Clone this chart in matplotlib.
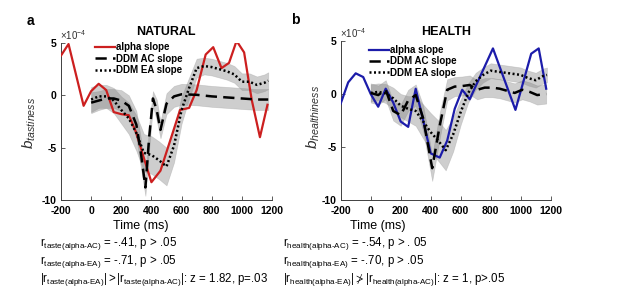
import matplotlib
matplotlib.use("Agg")
import matplotlib.pyplot as plt
from matplotlib.lines import Line2D
import numpy as np

plt.rcParams['font.family'] = ['Liberation Sans', 'DejaVu Sans']
plt.rcParams['mathtext.fontset'] = 'custom'
plt.rcParams['mathtext.rm'] = 'Liberation Sans'
plt.rcParams['mathtext.it'] = 'Liberation Sans:italic'
plt.rcParams['axes.unicode_minus'] = False

# ---- data (values in units of 1e-4) ----
# NATURAL panel
a_alpha_t = [-200, -150, -50, 0, 50, 100, 150, 200, 250, 300, 350, 400, 460, 590, 650, 700,
             760, 810, 865, 915, 965, 1015, 1065, 1120, 1170]
a_alpha = [3.8, 4.9, -1.0, 0.4, 1.1, 0.5, -1.6, -1.8, -1.9, -3.6, -6.0, -8.3, -7.2, -1.4, -1.2,
           0.5, 3.9, 4.6, 2.6, 3.1, 5.2, 4.1, -0.4, -4.0, -0.9]

a_ac_t = [0, 50, 100, 150, 200, 250, 300, 330, 360, 385, 410, 435, 460, 500, 550, 600, 700,
          800, 900, 1000, 1100, 1175]
a_ac = [-0.7, -0.5, -0.3, -0.3, -0.5, -1.0, -2.8, -5.5, -8.8, -4.0, -0.3, -1.4, -3.3, -0.8,
        -0.1, 0.1, 0.05, -0.1, -0.2, -0.3, -0.4, -0.4]
a_ac_err = [1.0, 0.9, 0.9, 0.9, 1.0, 1.0, 1.3, 1.4, 0.8, 1.2, 0.7, 1.0, 0.8, 1.0, 1.0, 1.0,
            1.0, 1.0, 1.0, 1.0, 1.0, 1.0]

a_ea_t = [0, 50, 100, 150, 200, 250, 300, 350, 400, 450, 500, 550, 600, 650, 700, 750, 800,
          850, 900, 950, 1000, 1050, 1100, 1150, 1175]
a_ea = [-0.4, -0.1, -0.1, -0.5, -1.4, -2.2, -3.6, -5.5, -5.7, -6.2, -6.8, -4.8, -1.4, 0.7, 2.6,
        2.8, 2.7, 2.5, 2.3, 2.0, 1.3, 1.3, 1.0, 1.2, 1.4]
a_ea_err = [1.2, 1.1, 1.1, 1.2, 1.3, 1.5, 1.7, 1.8, 1.8, 1.8, 1.8, 1.6, 1.3, 1.0, 0.9, 0.8,
            0.8, 0.8, 0.8, 0.8, 0.8, 0.8, 0.8, 0.8, 0.8]

# HEALTH panel
b_alpha_t = [-200, -150, -100, -50, 0, 50, 100, 150, 200, 250, 300, 350, 400, 460, 510, 560,
             610, 660, 815, 965, 1070, 1120, 1170]
b_alpha = [-0.9, 1.1, 1.95, 1.6, 0.0, -1.2, 0.5, -0.8, -2.6, -3.1, 0.5, -2.5, -5.6, -6.0, -4.4,
           -1.4, 0.4, -0.5, 4.3, -1.5, 3.8, 4.3, 0.5]

b_ac_t = [0, 50, 100, 150, 200, 250, 300, 350, 410, 460, 510, 560, 610, 660, 710, 760, 810,
          860, 910, 960, 1010, 1060, 1110, 1170]
b_ac = [0.1, -0.1, 0.4, -1.6, -2.0, -0.6, -0.1, -2.3, -7.0, -3.0, 0.4, 0.7, 0.75, 0.85, 0.4,
        0.6, 0.6, 0.5, 0.3, 0.1, 0.4, 0.2, -0.1, 0.0]
b_ac_err = [0.9, 0.9, 0.9, 0.9, 1.0, 1.0, 1.0, 1.2, 1.2, 1.2, 1.0, 0.9, 0.9, 0.9, 0.9, 0.9,
            0.9, 0.9, 0.9, 0.9, 0.9, 0.9, 0.9, 0.9]

b_ea_t = [0, 50, 100, 150, 200, 250, 300, 350, 400, 450, 500, 550, 600, 650, 700, 750, 800,
          850, 900, 950, 1000, 1050, 1100, 1150, 1175]
b_ea = [0.1, 0.2, 0.05, -0.4, -1.1, -1.4, -1.6, -2.6, -3.6, -4.4, -5.3, -3.8, -1.7, 0.1, 1.2,
        1.8, 2.2, 2.1, 2.0, 1.9, 1.8, 1.5, 1.3, 1.7, 1.8]
b_ea_err = [0.8, 0.8, 0.9, 1.0, 1.1, 1.2, 1.4, 1.6, 1.8, 1.9, 1.9, 1.6, 1.2, 0.9, 0.8, 0.7,
            0.7, 0.7, 0.7, 0.7, 0.7, 0.7, 0.7, 0.7, 0.7]

xticks = [-200, 0, 200, 400, 600, 800, 1000, 1200]
yticks = [-10, -5, 0, 5]
legend_labels = ['alpha slope', 'DDM AC slope', 'DDM EA slope']

W, H = 617, 298
fig = plt.figure(figsize=(W / 100, H / 100), dpi=100)


def px(x, y):
    return x / W, 1 - y / H


def band(ax, t, m, e):
    t = np.array(t); m = np.array(m); e = np.array(e)
    ax.fill_between(t, m - e, m + e, facecolor='0.5', alpha=0.38, edgecolor='0.6', lw=0.5)


def panel(rect, alpha_t, alpha, col, ac_t, ac, ac_err, ea_t, ea, ea_err, ylab, leg_x, leg_y):
    ax = fig.add_axes(rect)
    band(ax, ac_t, ac, ac_err)
    band(ax, ea_t, ea, ea_err)
    ax.plot(alpha_t, alpha, color=col, lw=1.6, zorder=3)
    ax.plot(ac_t, ac, color='k', lw=1.8, dashes=(4.5, 2.5), zorder=4)
    ax.plot(ea_t, ea, color='k', lw=1.8, dashes=(0.8, 1.0), zorder=4)
    ax.set_xlim(-200, 1200)
    ax.set_ylim(-10, 5)
    ax.set_xticks(xticks)
    ax.set_yticks(yticks)
    for s in ['top', 'right']:
        ax.spines[s].set_visible(False)
    for s in ['left', 'bottom']:
        ax.spines[s].set_color('#404040')
        ax.spines[s].set_linewidth(0.7)
    ax.tick_params(direction='in', length=3, width=0.6, colors='#404040', labelcolor='k',
                   labelsize=7.5)
    ax.tick_params(axis='x', pad=4)
    ax.tick_params(axis='y', pad=3)
    for lab in ax.get_xticklabels() + ax.get_yticklabels():
        lab.set_fontweight('bold')
    ax.set_ylabel(ylab, fontsize=11, color='#303030')
    handles = [Line2D([], [], color=col, lw=1.6),
               Line2D([], [], color='k', lw=1.8, dashes=(4.5, 2.5)),
               Line2D([], [], color='k', lw=1.8, dashes=(0.8, 1.0))]
    ax.legend(handles, legend_labels, loc='upper left', bbox_to_anchor=(leg_x, leg_y),
              frameon=False, prop={'weight': 'bold', 'size': 7}, handlelength=2.1,
              handletextpad=0.1, labelspacing=0.15, borderpad=0, borderaxespad=0)
    return ax


ax1 = panel([61 / W, 98 / H, 211 / W, 157 / H], a_alpha_t, a_alpha, '#cc1f1f',
            a_ac_t, a_ac, a_ac_err, a_ea_t, a_ea, a_ea_err,
            r'$b_{tastiness}$', 0.16, 1.005)
ax1.yaxis.set_label_coords(-0.11, 0.49)

ax2 = panel([340.7 / W, 98 / H, 210 / W, 159 / H], b_alpha_t, b_alpha, '#1c1caa',
            b_ac_t, b_ac, b_ac_err, b_ea_t, b_ea, b_ea_err,
            r'$b_{healthiness}$', 0.135, 0.975)
ax2.yaxis.set_label_coords(-0.09, 0.52)

# panel letters, titles, exponents
fig.text(*px(30, 21), 'a', fontsize=10, fontweight='bold', ha='center', va='center')
fig.text(*px(295, 20), 'b', fontsize=10, fontweight='bold', ha='center', va='center')
fig.text(*px(166, 32), 'NATURAL', fontsize=9, fontweight='bold', ha='center', va='center')
fig.text(*px(446, 32), 'HEALTH', fontsize=9, fontweight='bold', ha='center', va='center')
fig.text(*px(60, 35), r'$\times\mathregular{10^{-4}}$', fontsize=7, va='center', color='#303030')
fig.text(*px(340, 33), r'$\times\mathregular{10^{-4}}$', fontsize=7, va='center', color='#303030')

# x labels
fig.text(*px(141, 226), 'Time (ms)', fontsize=9, ha='center', va='center')
fig.text(*px(378, 226), 'Time (ms)', fontsize=9, ha='center', va='center')

# statistics (hyphen U+2010 keeps mathtext from spacing it as a minus)
fs = 8.3
hy = '\u2010'
ta_ac = r'r_{taste(alpha' + hy + 'AC)}'
ta_ea = r'r_{taste(alpha' + hy + 'EA)}'
he_ac = r'r_{health(alpha' + hy + 'AC)}'
he_ea = r'r_{health(alpha' + hy + 'EA)}'
fig.text(*px(40, 243), r'$\mathregular{' + ta_ac + '}$ = -.41, p > .05', fontsize=fs, va='center')
fig.text(*px(40, 262), r'$\mathregular{' + ta_ea + '}$ = -.71, p > .05', fontsize=fs, va='center')
fig.text(*px(40, 280), r'$\mathregular{|' + ta_ea + '|{>}|' + ta_ac + '|}$: z = 1.82, p=.03',
         fontsize=fs, va='center')
fig.text(*px(283, 243), r'$\mathregular{' + he_ac + '}$ = -.54, p > . 05', fontsize=fs, va='center')
fig.text(*px(283, 262), r'$\mathregular{' + he_ea + '}$ = -.70, p > .05', fontsize=fs, va='center')
fig.text(*px(283, 280), r'$\mathregular{|' + he_ea + r'|{\ngtr}|' + he_ac + '|}$: z = 1, p>.05',
         fontsize=fs, va='center')

fig.savefig('out.png', dpi=100)
